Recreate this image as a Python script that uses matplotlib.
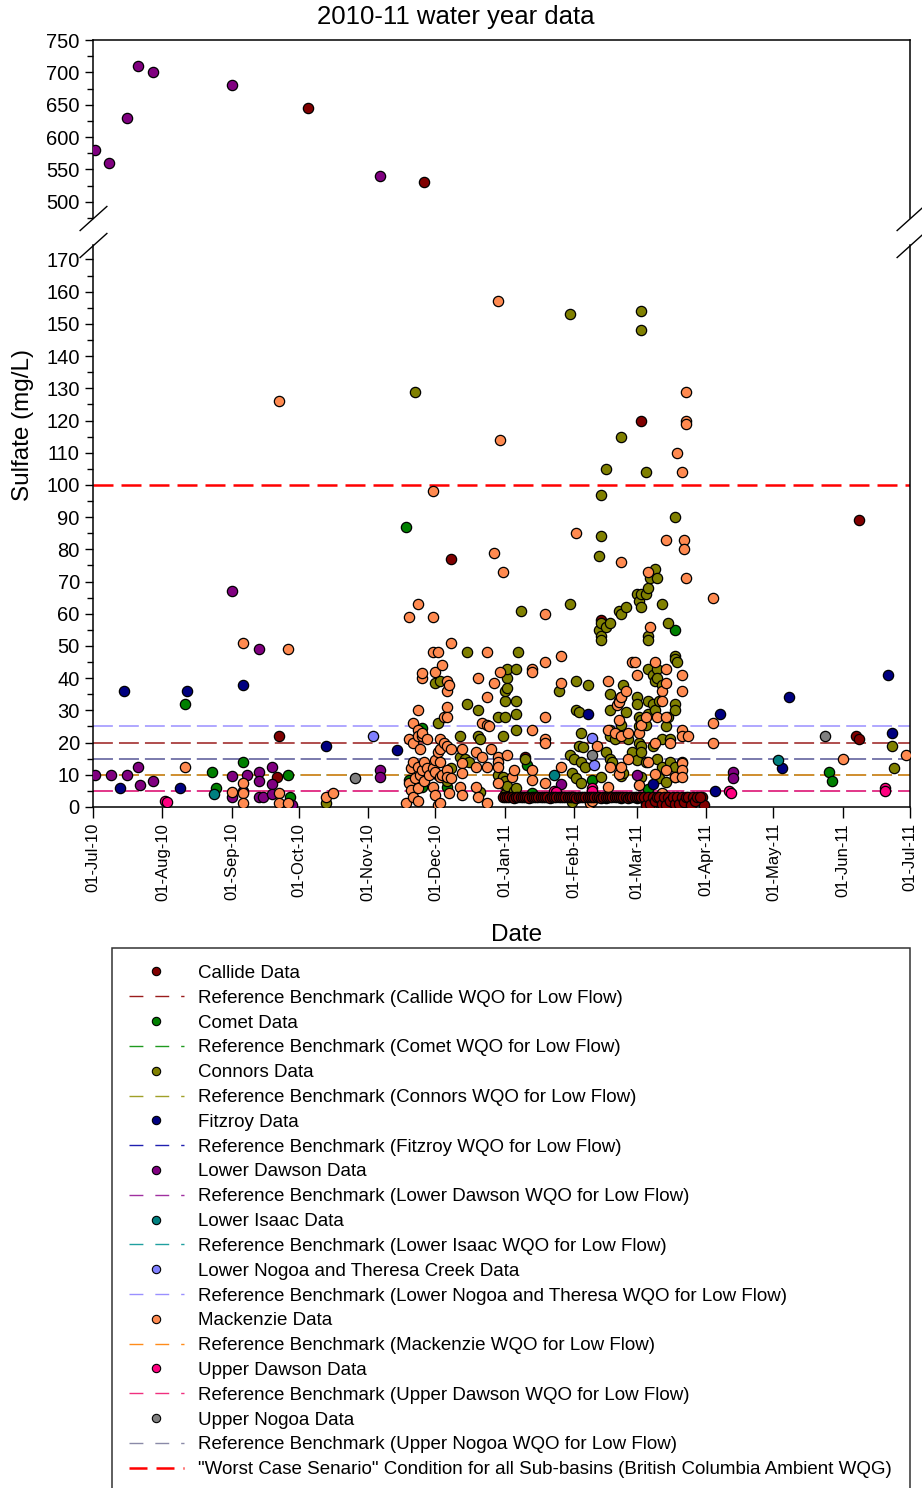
import matplotlib
matplotlib.use('Agg')
import matplotlib.pyplot as plt
import matplotlib.dates as mdates
from matplotlib.lines import Line2D
from matplotlib.ticker import MultipleLocator
import pandas as pd

plt.rcParams['font.family'] = ['Liberation Sans', 'DejaVu Sans']

#=============================== data ==========================================
# sulfate samples (mg/L) per sub-basin
callide = [('2010-09-21', 9.3), ('2010-09-22', 22), ('2010-10-05', 645), ('2010-11-26', 530),
           ('2010-12-08', 77), ('2011-01-10', 15.5), ('2011-02-13', 58), ('2011-03-03', 120),
           ('2011-03-30', 3), ('2011-03-31', 0.5), ('2011-06-07', 22), ('2011-06-08', 21),
           ('2011-06-08', 89)]
# daily logger run at Callide
callide_daily_start = '2010-12-31'
callide_daily = [3, 3, 3.2, 3, 3, 2.8, 3, 3, 3, 3.2,
                 3, 3, 2.8, 3, 3, 3, 3.2, 3, 3, 3,
                 3, 2.8, 3, 3, 3, 3.2, 3, 3, 3, 3,
                 3, 3, 3, 2.8, 3, 3, 3, 3.2, 3, 3,
                 3, 3.2, 3, 3, 2.8, 3, 3, 3, 3, 3,
                 3, 3, 3, 3.2, 3, 3, 2.8, 3, 3, 3,
                 3, 3, 3, 3, 0.6, 3, 1, 3, 2, 3,
                 3, 1, 3, 0.5, 3, 2, 3, 1, 3, 0.8,
                 3, 1.5, 3, 3, 0.6, 3, 2, 3, 3]

comet = [('2010-08-11', 32), ('2010-08-23', 11), ('2010-08-25', 6), ('2010-09-06', 14),
         ('2010-09-26', 10), ('2010-09-27', 3), ('2010-11-18', 87), ('2010-11-19', 8.4),
         ('2010-11-20', 7.5), ('2010-11-25', 24.5), ('2010-11-25', 6.2), ('2010-12-06', 6.2),
         ('2011-01-11', 13), ('2011-01-13', 4.3), ('2011-02-09', 8.4), ('2011-03-06', 5.6),
         ('2011-03-18', 55), ('2011-05-26', 11), ('2011-05-27', 8)]

connors = [('2010-10-13', 1.2), ('2010-11-22', 129), ('2010-11-25', 12), ('2010-12-01', 38.5),
           ('2010-12-02', 10), ('2010-12-02', 26), ('2010-12-03', 39), ('2010-12-06', 8),
           ('2010-12-08', 12), ('2010-12-12', 22), ('2010-12-12', 15.5), ('2010-12-14', 15),
           ('2010-12-15', 48), ('2010-12-15', 32), ('2010-12-16', 14), ('2010-12-20', 30),
           ('2010-12-20', 22), ('2010-12-21', 21), ('2010-12-21', 4.6), ('2010-12-29', 28),
           ('2010-12-29', 10), ('2010-12-31', 22), ('2010-12-31', 9.3), ('2010-12-31', 7),
           ('2011-01-01', 28), ('2011-01-01', 33), ('2011-01-01', 36), ('2011-01-01', 8),
           ('2011-01-01', 4), ('2011-01-02', 40), ('2011-01-02', 37), ('2011-01-02', 43),
           ('2011-01-02', 6.5), ('2011-01-05', 5), ('2011-01-06', 29), ('2011-01-06', 33),
           ('2011-01-06', 43), ('2011-01-06', 24), ('2011-01-06', 6), ('2011-01-07', 48),
           ('2011-01-08', 61), ('2011-01-10', 15), ('2011-01-25', 36), ('2011-01-30', 153),
           ('2011-01-30', 63), ('2011-01-30', 16), ('2011-01-31', 10.5), ('2011-01-31', 3),
           ('2011-01-31', 1.5), ('2011-02-01', 15), ('2011-02-02', 39), ('2011-02-02', 30),
           ('2011-02-02', 9), ('2011-02-03', 29.5), ('2011-02-03', 19), ('2011-02-04', 23),
           ('2011-02-04', 14), ('2011-02-04', 7.5), ('2011-02-05', 18.6), ('2011-02-06', 12.5),
           ('2011-02-07', 38), ('2011-02-12', 78), ('2011-02-12', 55), ('2011-02-13', 97),
           ('2011-02-13', 84), ('2011-02-13', 57), ('2011-02-13', 53), ('2011-02-13', 52),
           ('2011-02-13', 9.3), ('2011-02-15', 105), ('2011-02-15', 56), ('2011-02-15', 17),
           ('2011-02-17', 57), ('2011-02-17', 35), ('2011-02-17', 30), ('2011-02-17', 24),
           ('2011-02-17', 22), ('2011-02-17', 15), ('2011-02-18', 14), ('2011-02-19', 21),
           ('2011-02-21', 61), ('2011-02-21', 33), ('2011-02-22', 115), ('2011-02-22', 60),
           ('2011-02-22', 34), ('2011-02-22', 25.5), ('2011-02-22', 9.5), ('2011-02-23', 38),
           ('2011-02-23', 10.5), ('2011-02-24', 62), ('2011-02-24', 29.5), ('2011-02-25', 21),
           ('2011-02-27', 17), ('2011-03-01', 66), ('2011-03-01', 34), ('2011-03-01', 32),
           ('2011-03-01', 14.6), ('2011-03-02', 64), ('2011-03-02', 28), ('2011-03-02', 25),
           ('2011-03-02', 20), ('2011-03-03', 154), ('2011-03-03', 148), ('2011-03-03', 66),
           ('2011-03-03', 62), ('2011-03-03', 27), ('2011-03-03', 19), ('2011-03-03', 17),
           ('2011-03-03', 9.3), ('2011-03-05', 104), ('2011-03-05', 66), ('2011-03-05', 25.5),
           ('2011-03-05', 14), ('2011-03-05', 1.2), ('2011-03-06', 68), ('2011-03-06', 53),
           ('2011-03-06', 52), ('2011-03-06', 43), ('2011-03-06', 33), ('2011-03-06', 29),
           ('2011-03-07', 71), ('2011-03-08', 41), ('2011-03-08', 32), ('2011-03-08', 19),
           ('2011-03-09', 74), ('2011-03-09', 39), ('2011-03-09', 30), ('2011-03-10', 71),
           ('2011-03-10', 43), ('2011-03-10', 40), ('2011-03-10', 15), ('2011-03-11', 33),
           ('2011-03-11', 9), ('2011-03-12', 63), ('2011-03-12', 38), ('2011-03-12', 21),
           ('2011-03-12', 12.5), ('2011-03-12', 1.2), ('2011-03-14', 25), ('2011-03-14', 7.8),
           ('2011-03-15', 57), ('2011-03-15', 28), ('2011-03-16', 21), ('2011-03-16', 14),
           ('2011-03-18', 90), ('2011-03-18', 47), ('2011-03-18', 46), ('2011-03-18', 32),
           ('2011-03-18', 30), ('2011-03-18', 12.5), ('2011-03-18', 9.3), ('2011-03-19', 45),
           ('2011-03-21', 14), ('2011-06-23', 19), ('2011-06-24', 12)]

fitzroy = [('2010-07-13', 6), ('2010-07-15', 36), ('2010-08-09', 6), ('2010-08-12', 36),
           ('2010-09-06', 38), ('2010-09-06', 5), ('2010-10-13', 19), ('2010-11-14', 17.7),
           ('2011-02-07', 29), ('2011-03-08', 7), ('2011-04-05', 5), ('2011-04-07', 29),
           ('2011-05-05', 12), ('2011-05-08', 34), ('2011-06-21', 41), ('2011-06-23', 23)]

lower_dawson = [('2010-07-02', 580), ('2010-07-08', 560), ('2010-07-16', 630), ('2010-07-21', 710),
                ('2010-07-28', 700), ('2010-09-01', 680), ('2010-11-06', 540),
                ('2010-07-02', 10), ('2010-07-09', 10), ('2010-07-16', 10), ('2010-07-21', 12.4),
                ('2010-07-22', 6.8), ('2010-07-28', 8), ('2010-09-01', 67), ('2010-09-01', 9.6),
                ('2010-09-01', 3), ('2010-09-08', 10), ('2010-09-13', 11), ('2010-09-13', 8),
                ('2010-09-13', 3), ('2010-09-13', 49), ('2010-09-15', 3), ('2010-09-19', 12.4),
                ('2010-09-19', 7), ('2010-09-19', 4), ('2010-09-28', 0.5), ('2010-11-06', 11.5),
                ('2010-11-06', 9.3), ('2011-01-26', 7), ('2011-03-01', 10), ('2011-04-13', 11),
                ('2011-04-13', 9)]

lower_isaac = [('2010-08-24', 4), ('2011-01-23', 10), ('2011-05-03', 14.6)]

lower_nogoa = [('2010-11-03', 22), ('2011-02-09', 21.4), ('2011-02-10', 13)]

mackenzie = [('2010-08-11', 12.4), ('2010-09-01', 4.6), ('2010-09-06', 51), ('2010-09-06', 7.5),
             ('2010-09-06', 4.3), ('2010-09-06', 1.2), ('2010-09-22', 126), ('2010-09-22', 4.3),
             ('2010-09-22', 1.2), ('2010-09-26', 49), ('2010-09-26', 1.2), ('2010-10-13', 3),
             ('2010-10-16', 4.3),
             ('2010-11-18', 1.2), ('2010-11-19', 59), ('2010-11-19', 21), ('2010-11-19', 7.5),
             ('2010-11-20', 5.3), ('2010-11-20', 12), ('2010-11-21', 26), ('2010-11-21', 20),
             ('2010-11-21', 14), ('2010-11-21', 3), ('2010-11-22', 9), ('2010-11-23', 63),
             ('2010-11-23', 30), ('2010-11-23', 24), ('2010-11-23', 22), ('2010-11-23', 12.4),
             ('2010-11-23', 6), ('2010-11-23', 2), ('2010-11-24', 18), ('2010-11-24', 10),
             ('2010-11-25', 40), ('2010-11-25', 41.6), ('2010-11-25', 22), ('2010-11-25', 23),
             ('2010-11-25', 11.5), ('2010-11-26', 8), ('2010-11-26', 14), ('2010-11-27', 21),
             ('2010-11-27', 12), ('2010-11-28', 10), ('2010-11-30', 98), ('2010-11-30', 59),
             ('2010-11-30', 48), ('2010-11-30', 12), ('2010-11-30', 6.2), ('2010-12-01', 42),
             ('2010-12-01', 14.6), ('2010-12-01', 11), ('2010-12-01', 3.7), ('2010-12-02', 48),
             ('2010-12-02', 17), ('2010-12-02', 0.6), ('2010-12-03', 21), ('2010-12-03', 18),
             ('2010-12-03', 14), ('2010-12-03', 9.3), ('2010-12-03', 1.2), ('2010-12-04', 44),
             ('2010-12-04', 10), ('2010-12-05', 28), ('2010-12-05', 20), ('2010-12-06', 39),
             ('2010-12-06', 36), ('2010-12-06', 31), ('2010-12-06', 28), ('2010-12-06', 19),
             ('2010-12-06', 11.5), ('2010-12-06', 9.3), ('2010-12-07', 38), ('2010-12-07', 4.3),
             ('2010-12-08', 51), ('2010-12-08', 18), ('2010-12-08', 9), ('2010-12-12', 6.2),
             ('2010-12-13', 18), ('2010-12-13', 13.7), ('2010-12-13', 10.5), ('2010-12-13', 3.7),
             ('2010-12-19', 17), ('2010-12-19', 12.4), ('2010-12-19', 6.2), ('2010-12-20', 40),
             ('2010-12-20', 3), ('2010-12-22', 26), ('2010-12-22', 15.5), ('2010-12-24', 48),
             ('2010-12-24', 34), ('2010-12-24', 25.5), ('2010-12-24', 12.4), ('2010-12-24', 1.2),
             ('2010-12-25', 25), ('2010-12-26', 18), ('2010-12-27', 79), ('2010-12-27', 38.5),
             ('2010-12-29', 157), ('2010-12-29', 15.5), ('2010-12-29', 14), ('2010-12-29', 12.4),
             ('2010-12-29', 7.5), ('2010-12-30', 114), ('2010-12-30', 42), ('2010-12-31', 73),
             ('2011-01-02', 16), ('2011-01-04', 9.3), ('2011-01-05', 11.5), ('2011-01-13', 43),
             ('2011-01-13', 42), ('2011-01-13', 24), ('2011-01-13', 11.5), ('2011-01-13', 8.4),
             ('2011-01-19', 60), ('2011-01-19', 45), ('2011-01-19', 28), ('2011-01-19', 21),
             ('2011-01-19', 20), ('2011-01-19', 7.5), ('2011-01-26', 47), ('2011-01-26', 38.5),
             ('2011-01-26', 12.4), ('2011-02-02', 85), ('2011-02-08', 1.2), ('2011-02-09', 2),
             ('2011-02-11', 19), ('2011-02-15', 2.8), ('2011-02-16', 39), ('2011-02-16', 24),
             ('2011-02-16', 6.2), ('2011-02-17', 12.4), ('2011-02-19', 23), ('2011-02-20', 31.7),
             ('2011-02-21', 32.6), ('2011-02-21', 27), ('2011-02-21', 10.2), ('2011-02-22', 76),
             ('2011-02-22', 34), ('2011-02-22', 22), ('2011-02-22', 12.4), ('2011-02-22', 2.8),
             ('2011-02-24', 36), ('2011-02-25', 23), ('2011-02-25', 15), ('2011-02-27', 45),
             ('2011-02-28', 45), ('2011-03-01', 41), ('2011-03-01', 2.8), ('2011-03-02', 23),
             ('2011-03-02', 6.8), ('2011-03-03', 25.5), ('2011-03-05', 28), ('2011-03-06', 73),
             ('2011-03-06', 14), ('2011-03-07', 56), ('2011-03-08', 1.2), ('2011-03-09', 45),
             ('2011-03-09', 20), ('2011-03-09', 10.2), ('2011-03-10', 28), ('2011-03-12', 36),
             ('2011-03-12', 33), ('2011-03-12', 4.3), ('2011-03-14', 83), ('2011-03-14', 43),
             ('2011-03-14', 38.5), ('2011-03-14', 28), ('2011-03-14', 11.5), ('2011-03-16', 20),
             ('2011-03-16', 1.2), ('2011-03-18', 9.3), ('2011-03-19', 110), ('2011-03-20', 1),
             ('2011-03-21', 104), ('2011-03-21', 41), ('2011-03-21', 36), ('2011-03-21', 24),
             ('2011-03-21', 22), ('2011-03-21', 13.7), ('2011-03-21', 11.5), ('2011-03-21', 9.3),
             ('2011-03-22', 83), ('2011-03-22', 80), ('2011-03-23', 129), ('2011-03-23', 120),
             ('2011-03-23', 119), ('2011-03-23', 71), ('2011-03-24', 22), ('2011-04-04', 65),
             ('2011-04-04', 26), ('2011-04-04', 20), ('2011-06-01', 15), ('2011-06-29', 16)]

upper_dawson = [('2010-08-02', 2), ('2010-08-03', 1.5), ('2011-01-23', 5), ('2011-01-24', 4.7),
                ('2011-02-09', 6), ('2011-02-09', 5), ('2011-04-11', 5), ('2011-04-12', 4.3),
                ('2011-06-20', 6), ('2011-06-20', 5)]

upper_nogoa = [('2010-10-26', 9), ('2011-02-09', 16), ('2011-05-24', 22)]

# sub-basin names, water quality objectives (low flow) and the BC guideline
basins = ['Callide', 'Comet', 'Connors', 'Fitzroy', 'Lower Dawson', 'Lower Isaac',
          'Lower Nogoa and Theresa Creek', 'Mackenzie', 'Upper Dawson', 'Upper Nogoa']
ref_names = ['Callide', 'Comet', 'Connors', 'Fitzroy', 'Lower Dawson', 'Lower Isaac',
             'Lower Nogoa and Theresa', 'Mackenzie', 'Upper Dawson', 'Upper Nogoa']
wqo = [20, 10, 10, 15, 5, 10, 25, 10, 5, 15]
worst_case = 100

dot_colors = ['#800000', '#008000', '#808000', '#000080', '#800080', '#008080',
              '#8080ff', '#ff8a50', '#ff0080', '#808080']
ref_colors = ['#9a1c1c', '#1f9a1f', '#a0a028', '#2020b0', '#a030a0', '#20a0a0',
              '#9a90ff', '#ff8c1a', '#f0307f', '#8a8aa8']

daily_dates = pd.date_range(callide_daily_start, periods=len(callide_daily))
samples = [callide, comet, connors, fitzroy, lower_dawson, lower_isaac,
           lower_nogoa, mackenzie, upper_dawson, upper_nogoa]

#=============================== figure ========================================
W, H = 922, 1488
fig = plt.figure(figsize=(W / 100, H / 100), dpi=100)

# broken y axis: top panel 475-750, bottom panel 0-174.5
ax_top = fig.add_axes([93 / W, 1 - 218 / H, 817 / W, 178 / H])
ax_bot = fig.add_axes([93 / W, 1 - 807 / H, 817 / W, 562 / H])

for i in range(len(basins)):
    ax_bot.axhline(wqo[i], color=ref_colors[i], lw=1.1, dashes=(13, 4), zorder=1)
ax_bot.axhline(worst_case, color='#ff0000', lw=1.8, dashes=(8, 3.2), zorder=1)

for ax in (ax_top, ax_bot):
    for i in range(len(basins)):
        d = pd.to_datetime([p[0] for p in samples[i]])
        v = [p[1] for p in samples[i]]
        ax.plot(d, v, 'o', ms=7.4, mfc=dot_colors[i], mec='black', mew=0.9, zorder=3)
    # Callide daily run sits on top of the other basins
    ax.plot(daily_dates, callide_daily, 'o', ms=7.4, mfc=dot_colors[0], mec='black', mew=0.9, zorder=4)
    ax.set_xlim(pd.Timestamp('2010-07-01'), pd.Timestamp('2011-07-01'))
    ax.xaxis.set_major_locator(mdates.MonthLocator())
    ax.xaxis.set_major_formatter(mdates.DateFormatter('%d-%b-%y'))
    for s in ax.spines.values():
        s.set_linewidth(1.1)
    ax.tick_params(which='both', direction='out', width=1.0, right=False, top=False)
    ax.tick_params(which='major', length=6)
    ax.tick_params(which='minor', length=4)

ax_top.set_ylim(475, 750)
ax_top.yaxis.set_major_locator(MultipleLocator(50))
ax_top.yaxis.set_minor_locator(MultipleLocator(25))
ax_top.set_yticks(range(500, 751, 50))
ax_top.spines['bottom'].set_visible(False)
ax_top.tick_params(axis='x', which='both', bottom=False, labelbottom=False)
ax_top.tick_params(axis='y', labelsize=14.5)

ax_bot.set_ylim(0, 174.5)
ax_bot.yaxis.set_major_locator(MultipleLocator(10))
ax_bot.yaxis.set_minor_locator(MultipleLocator(5))
ax_bot.set_yticks(range(0, 171, 10))
ax_bot.spines['top'].set_visible(False)
ax_bot.tick_params(axis='y', labelsize=14.5)
ax_bot.tick_params(axis='x', labelsize=12, rotation=90, length=8)

# break marks on both spines
slash = dict(marker=[(-1, -0.9), (1, 0.9)], markersize=20, linestyle='none',
             color='black', mec='black', mew=1.0, clip_on=False)
ax_top.plot([0, 1], [0, 0], transform=ax_top.transAxes, **slash)
ax_bot.plot([0, 1], [1, 1], transform=ax_bot.transAxes, **slash)

fig.text(456 / W, 1 - 17 / H, '2010-11 water year data', ha='center', va='center', fontsize=18.5)
fig.text(23 / W, 1 - 425 / H, 'Sulfate (mg/L)', ha='center', va='center', rotation=90, fontsize=17.5)
fig.text(517 / W, 1 - 935 / H, 'Date', ha='center', va='center', fontsize=17.5)

#=============================== legend ========================================
handles, labels = [], []
for i in range(len(basins)):
    handles.append(Line2D([], [], ls='none', marker='o', ms=6, mfc=dot_colors[i],
                          mec='black', mew=0.8))
    labels.append(basins[i] + ' Data')
    handles.append(Line2D([], [], color=ref_colors[i], lw=1.0, dashes=(10, 8.6)))
    labels.append('Reference Benchmark (' + ref_names[i] + ' WQO for Low Flow)')
handles.append(Line2D([], [], color='#ff0000', lw=1.8, dashes=(7.2, 3.6)))
labels.append('"Worst Case Senario" Condition for all Sub-basins (British Columbia Ambient WQG)')

leg = fig.legend(handles, labels, loc='upper left', mode='expand',
                 bbox_to_anchor=(112 / W, 1 - 948 / H, 798 / W, 0), borderaxespad=0,
                 fontsize=13.5, frameon=True, fancybox=False, edgecolor='black',
                 handlelength=2.93, handletextpad=0.75, borderpad=0.9, labelspacing=0.41)
leg.get_frame().set_linewidth(1.1)

fig.savefig('out.png', dpi=100)
